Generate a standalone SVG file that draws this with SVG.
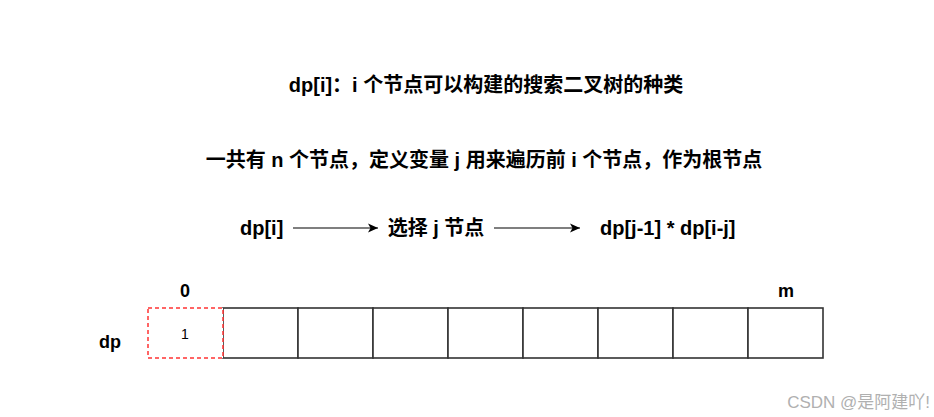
<svg xmlns="http://www.w3.org/2000/svg" width="934" height="417" viewBox="0 0 934 417">
<style>
.t{font-family:"Liberation Sans","Noto Sans CJK SC",sans-serif;font-weight:bold;fill:#000}
.cell{fill:#fff;stroke:#333;stroke-width:1.6}
.red{fill:#fff;stroke:#ff3333;stroke-width:1.5;stroke-dasharray:4 3}
.conn{stroke:#000;stroke-width:1.2;fill:none}
</style>
<defs>
<marker id="ah" markerWidth="12" markerHeight="12" refX="10" refY="6" orient="auto" markerUnits="userSpaceOnUse">
<path d="M0,1.5 L10,6 L0,10.5 L2.5,6 Z" fill="#000"/>
</marker>
</defs>
<rect width="934" height="417" fill="#fff"/>
<g id="title"><text class="t" x="486" y="92" font-size="20" text-anchor="middle">dp[i]：i 个节点可以构建的搜索二叉树的种类</text></g>
<g id="desc"><text class="t" x="484" y="167" font-size="20" text-anchor="middle">一共有 n 个节点，定义变量 j 用来遍历前 i 个节点，作为根节点</text></g>
<g id="n1"><text class="t" x="240" y="235" font-size="20">dp[i]</text></g>
<g id="n2"><text class="t" x="436" y="235" font-size="20" text-anchor="middle">选择 j 节点</text></g>
<g id="n3"><text class="t" x="600" y="235" font-size="20">dp[j-1] * dp[i-j]</text></g>
<g id="connectors">
<line class="conn" x1="293" y1="228" x2="378" y2="228" marker-end="url(#ah)"/>
<line class="conn" x1="494" y1="228" x2="580" y2="228" marker-end="url(#ah)"/>
</g>
<g id="array">
<rect class="cell" x="223" y="308" width="75" height="50"/>
<rect class="cell" x="298" y="308" width="75" height="50"/>
<rect class="cell" x="373" y="308" width="75" height="50"/>
<rect class="cell" x="448" y="308" width="75" height="50"/>
<rect class="cell" x="523" y="308" width="75" height="50"/>
<rect class="cell" x="598" y="308" width="75" height="50"/>
<rect class="cell" x="673" y="308" width="75" height="50"/>
<rect class="cell" x="748" y="308" width="75" height="50"/>
<rect class="red" x="148" y="308" width="75" height="50"/>
<text x="185" y="339" font-family="Liberation Sans,sans-serif" font-size="14" text-anchor="middle">1</text>
</g>
<g id="labels">
<text class="t" x="185" y="297" font-size="18" text-anchor="middle">0</text>
<text class="t" x="786" y="297" font-size="18" text-anchor="middle">m</text>
<text class="t" x="110" y="348" font-size="18" text-anchor="middle">dp</text>
</g>
<text x="930" y="408" font-family="Liberation Sans,'Noto Sans CJK SC',sans-serif" font-size="17" fill="#b0b0b0" text-anchor="end">CSDN @是阿建吖!</text>
</svg>
